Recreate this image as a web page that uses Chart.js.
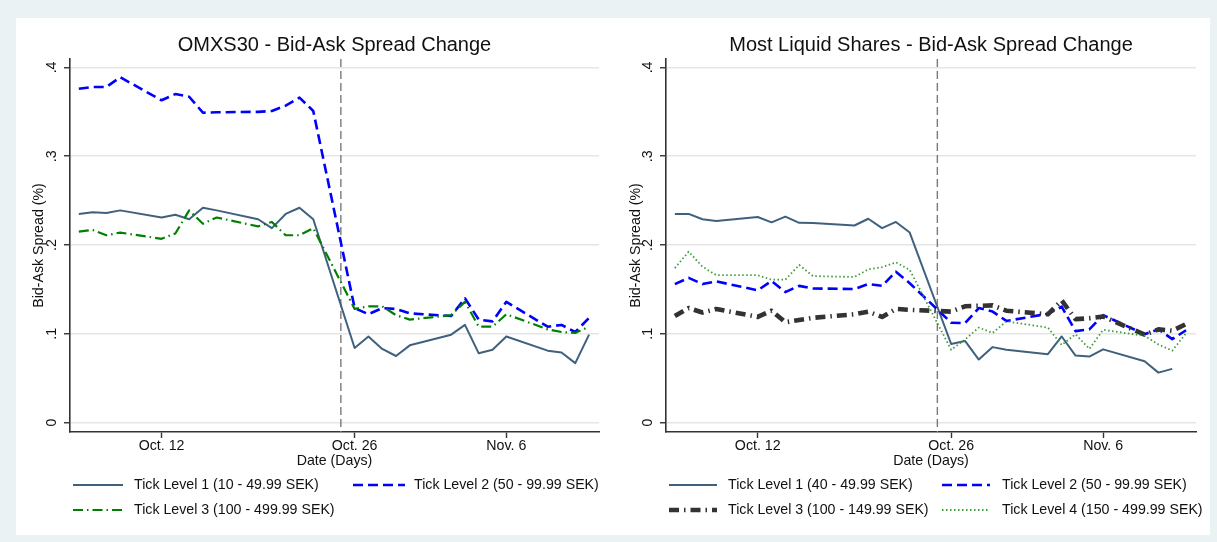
<!DOCTYPE html>
<html>
<head>
<meta charset="utf-8">
<script src="https://cdn.jsdelivr.net/npm/chart.js@4.4.1/dist/chart.umd.min.js"></script>
<style>
  html, body { margin: 0; padding: 0; width: 1217px; height: 542px; overflow: hidden; background: #eaf2f3; }
  #frame { position: absolute; left: 16px; top: 18px; width: 1194px; height: 517px; background: #ffffff; }
  canvas { position: absolute; top: 0; }
  #omx { left: 0; }
  #liq { left: 597px; }
</style>
</head>
<body>
<div id="frame">
  <canvas id="omx" width="597" height="517"></canvas>
  <canvas id="liq" width="597" height="517"></canvas>
</div>
<script>
// Trading days in the sample window
const dates = [
  '2009-10-06','2009-10-07','2009-10-08','2009-10-09',
  '2009-10-12','2009-10-13','2009-10-14','2009-10-15','2009-10-16',
  '2009-10-19','2009-10-20','2009-10-21','2009-10-22','2009-10-23',
  '2009-10-26','2009-10-27','2009-10-28','2009-10-29','2009-10-30',
  '2009-11-02','2009-11-03','2009-11-04','2009-11-05','2009-11-06',
  '2009-11-09','2009-11-10','2009-11-11','2009-11-12'
];

// OMXS30 average bid-ask spread (%) per tick level
const omxTick1 = [0.235,0.237,0.236,0.239, 0.231,0.234,0.229,0.242,0.239, 0.229,0.219,0.235,0.242,0.229,
                  0.084,0.097,0.083,0.075,0.087, 0.099,0.110,0.078,0.082,0.097, 0.081,0.079,0.067,0.099];
const omxTick2 = [0.376,0.378,0.378,0.389, 0.363,0.370,0.367,0.349,0.3495, 0.350,0.351,0.357,0.366,0.351,
                  0.129,0.122,0.129,0.128,0.123, 0.120,0.140,0.116,0.114,0.136, 0.108,0.110,0.102,0.118];
const omxTick3 = [0.215,0.217,0.211,0.214, 0.207,0.213,0.239,0.224,0.231, 0.221,0.226,0.211,0.211,0.219,
                  0.128,0.131,0.131,0.121,0.116, 0.121,0.136,0.108,0.108,0.122, 0.105,0.102,0.101,0.108];

// Most liquid shares average bid-ask spread (%) per tick level
const liqTick1 = [0.235,0.235,0.229,0.227, 0.2315,0.2255,0.232,0.225,0.2248, 0.222,0.2296,0.219,0.226,0.214,
                  0.0885,0.092,0.071,0.085,0.082, 0.077,0.097,0.0755,0.0743,0.0825, 0.069,0.0563,0.0605,null];
const liqTick2 = [0.156,0.163,0.156,0.159, 0.149,0.1595,0.147,0.154,0.151, 0.1505,0.156,0.154,0.170,0.157,
                  0.1125,0.112,0.129,0.125,0.1145, 0.1225,0.1305,0.103,0.105,0.121, 0.0995,0.105,0.094,0.104];
const liqTick3 = [0.120,0.129,0.124,0.128, 0.119,0.126,0.113,0.1155,0.118, 0.122,0.125,0.119,0.128,0.127,
                  0.125,0.131,0.1315,0.132,0.126, 0.122,0.1375,0.1165,0.1175,0.1195, 0.099,0.105,0.1035,0.111];
const liqTick4 = [0.174,0.1925,0.1756,0.166, 0.166,0.161,0.161,0.1775,0.165, 0.164,0.1726,0.175,0.1805,0.172,
                  0.082,0.0935,0.107,0.101,0.114, 0.107,0.0874,0.0995,0.083,0.1045, 0.0977,0.088,0.081,0.1005];

// Axis ticks and the tick-size regime change marker
const xTickDates  = ['2009-10-12','2009-10-26','2009-11-06'];
const xTickLabels = ['Oct. 12','Oct. 26','Nov. 6'];
const yTickValues = [0, 0.1, 0.2, 0.3, 0.4];
const yTickLabels = ['0', '.1', '.2', '.3', '.4'];
const eventDate = '2009-10-25';

// Titles and legend entries
const omxTitle = 'OMXS30 - Bid-Ask Spread Change';
const liqTitle = 'Most Liquid Shares - Bid-Ask Spread Change';
const omxLabels = ['Tick Level 1 (10 - 49.99 SEK)', 'Tick Level 2 (50 - 99.99 SEK)', 'Tick Level 3 (100 - 499.99 SEK)'];
const liqLabels = ['Tick Level 1 (40 - 49.99 SEK)', 'Tick Level 2 (50 - 99.99 SEK)', 'Tick Level 3 (100 - 149.99 SEK)', 'Tick Level 4 (150 - 499.99 SEK)'];

const FONT = '"Liberation Sans", Arial, Helvetica, sans-serif';
const dayNum = d => Date.parse(d + 'T00:00:00Z') / 864e5;
const xMin = dayNum(dates[0]) - 0.64;
const xMax = dayNum(dates[dates.length - 1]) + 0.72;

const lineStyles = {
  solid:   { borderColor: '#3f617d', borderWidth: 2,   borderDash: [] },
  dash:    { borderColor: '#0000ff', borderWidth: 2.6, borderDash: [10, 5] },
  green:   { borderColor: '#008000', borderWidth: 2.2, borderDash: [10, 4, 1.5, 4] },
  black:   { borderColor: '#333333', borderWidth: 4.6, borderDash: [10, 5, 1.5, 5] },
  dotted:  { borderColor: '#3c9c3c', borderWidth: 1.8, borderDash: [1.5, 2.5] }
};

function makeDataset(label, values, style, idx) {
  return Object.assign({
    label,
    data: dates.map((d, i) => ({ x: dayNum(d), y: values[i] })),
    pointRadius: 0,
    tension: 0,
    fill: false,
    spanGaps: false,
    borderJoinStyle: 'round',
    order: -idx
  }, style);
}

// Draws the title, rotated y labels, event marker and a two-column legend
const panelDecor = {
  id: 'panelDecor',
  beforeDatasetsDraw(chart, args, opts) {
    const { ctx, chartArea: a, scales: { x } } = chart;
    const ex = x.getPixelForValue(dayNum(opts.event));
    ctx.save();
    ctx.strokeStyle = '#7a7a7a';
    ctx.lineWidth = 1.4;
    ctx.setLineDash([8, 4]);
    ctx.beginPath();
    ctx.moveTo(ex, a.top);
    ctx.lineTo(ex, a.bottom);
    ctx.stroke();
    ctx.restore();
  },
  afterDraw(chart, args, opts) {
    const { ctx, chartArea: a, scales: { y } } = chart;
    ctx.save();
    ctx.fillStyle = '#111';
    // title
    ctx.font = '20px ' + FONT;
    ctx.textAlign = 'center';
    ctx.textBaseline = 'middle';
    ctx.fillText(opts.title, (a.left + a.right) / 2, 27);
    // y tick labels, rotated
    ctx.font = '14.2px ' + FONT;
    yTickValues.forEach((v, i) => {
      ctx.save();
      ctx.translate(a.left - 18, y.getPixelForValue(v));
      ctx.rotate(-Math.PI / 2);
      ctx.fillText(yTickLabels[i], 0, 0);
      ctx.restore();
    });
    // legend
    const ds = chart.data.datasets;
    ds.forEach((d, i) => {
      const col = i % 2, row = Math.floor(i / 2);
      const c = opts.cols[col];
      const ly = opts.rows[row];
      ctx.save();
      ctx.strokeStyle = d.borderColor;
      ctx.lineWidth = d.borderWidth;
      ctx.setLineDash(d.borderDash || []);
      ctx.beginPath();
      ctx.moveTo(c[0], ly);
      ctx.lineTo(c[1], ly);
      ctx.stroke();
      ctx.restore();
      ctx.textAlign = 'left';
      ctx.fillText(d.label, c[2], ly);
    });
    ctx.restore();
  }
};

function makeChart(id, datasets, title, axisWidth, cols) {
  return new Chart(document.getElementById(id), {
    type: 'line',
    data: { datasets },
    plugins: [panelDecor],
    options: {
      responsive: false,
      animation: false,
      events: [],
      devicePixelRatio: 1,
      layout: { padding: { left: 0, right: 14, top: 41, bottom: 63 } },
      plugins: {
        legend: { display: false },
        tooltip: { enabled: false },
        title: { display: false },
        panelDecor: { title, event: eventDate, cols, rows: [467, 492] }
      },
      scales: {
        x: {
          type: 'linear',
          min: xMin,
          max: xMax,
          afterFit: s => { s.height = 40; },
          afterBuildTicks: s => { s.ticks = xTickDates.map(d => ({ value: dayNum(d) })); },
          ticks: {
            autoSkip: false,
            maxRotation: 0,
            minRotation: 0,
            padding: 0,
            color: '#111',
            font: { family: FONT, size: 14.2 },
            callback: v => {
              const k = xTickDates.findIndex(d => dayNum(d) === v);
              return k >= 0 ? xTickLabels[k] : '';
            }
          },
          grid: { drawOnChartArea: false, drawTicks: true, tickLength: 6, tickColor: '#333', tickWidth: 1.4 },
          border: { display: true, color: '#333', width: 1.6 },
          title: { display: true, text: 'Date (Days)', color: '#111', font: { family: FONT, size: 14.2 }, padding: { top: 0, bottom: 2.5 } }
        },
        y: {
          min: -0.0106,
          max: 0.4095,
          afterFit: s => { s.width = axisWidth; },
          afterBuildTicks: s => { s.ticks = yTickValues.map(v => ({ value: v })); },
          ticks: { display: false },
          grid: { color: '#e6e6e6', lineWidth: 1.5, drawTicks: true, tickLength: 6, tickColor: '#333', tickWidth: 1.4 },
          border: { display: true, color: '#333', width: 1.6 },
          title: { display: true, text: 'Bid-Ask Spread (%)', color: '#111', font: { family: FONT, size: 14.2 }, padding: { top: 14.8, bottom: 0 } }
        }
      }
    }
  });
}

makeChart('omx', [
  makeDataset(omxLabels[0], omxTick1, lineStyles.solid, 0),
  makeDataset(omxLabels[1], omxTick2, lineStyles.dash, 1),
  makeDataset(omxLabels[2], omxTick3, lineStyles.green, 2)
], omxTitle, 54, [[57, 107, 118], [337, 389, 398]]);

makeChart('liq', [
  makeDataset(liqLabels[0], liqTick1, lineStyles.solid, 0),
  makeDataset(liqLabels[1], liqTick2, lineStyles.dash, 1),
  makeDataset(liqLabels[2], liqTick3, lineStyles.black, 2),
  makeDataset(liqLabels[3], liqTick4, lineStyles.dotted, 3)
], liqTitle, 53, [[56, 104, 115], [329, 377, 389]]);
</script>
</body>
</html>
